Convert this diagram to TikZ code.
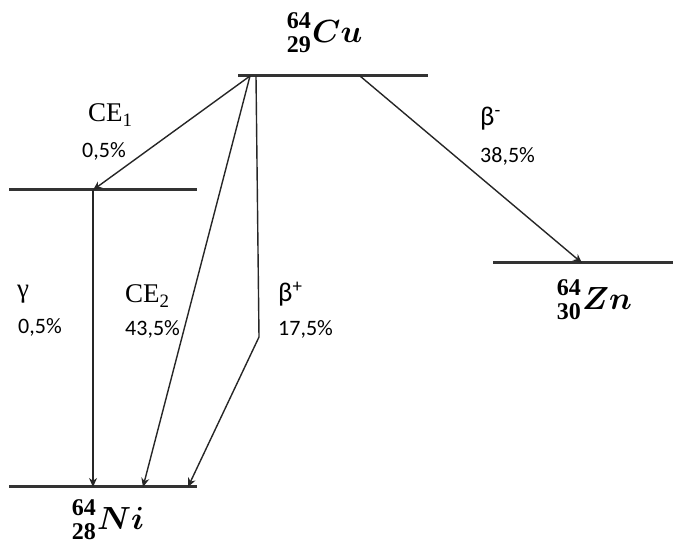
\RequirePackage{fix-cm}
\documentclass[tikz,border=0pt]{standalone}
\usepackage{amsmath,bm}
\usepackage{fontspec}
\setmainfont{Liberation Serif}
\newfontfamily\pctfont{Carlito}
\usetikzlibrary{arrows.meta,positioning}
\tikzset{
  level/.style={line width=3pt, draw=black!80},
  decay/.style={-{Stealth[length=9pt,width=8pt]}, line width=1.4pt, draw=black!85},
  nuc/.style={font=\fontsize{32}{34}\selectfont, anchor=base west, inner sep=0pt},
  znum/.style={font=\bfseries\fontsize{24}{26}\selectfont, anchor=base east, inner sep=0pt},
  mode/.style={font=\fontsize{27}{29}\selectfont, anchor=base west, inner sep=0pt},
  pct/.style={font=\pctfont\fontsize{22}{24}\selectfont, anchor=base west, inner sep=0pt},
}
\begin{document}
\begin{tikzpicture}[x=1pt, y=-1pt]
  \useasboundingbox (0,0) rectangle (673,545);
  % energy levels
  \coordinate (cuL) at (238,76);  \coordinate (cuR) at (428,76);
  \coordinate (exL) at (9,190);   \coordinate (exR) at (197,190);
  \coordinate (niL) at (9,487);   \coordinate (niR) at (197,487);
  \coordinate (znL) at (493,263); \coordinate (znR) at (673,263);
  \draw[level] (cuL) -- (cuR);
  \draw[level] (exL) -- (exR);
  \draw[level] (niL) -- (niR);
  \draw[level] (znL) -- (znR);
  % nuclides
  \node[nuc] (cu) at (312,43) {$\bm{Cu}$};
  \node[znum] (cuA) at ([xshift=-1pt,yshift=14pt]cu.base west) {64};
  \node[znum] (cuZ) at ([xshift=-1pt,yshift=-10pt]cu.base west) {29};
  \node[nuc] (zn) at (582,310) {$\bm{Zn}$};
  \node[znum] (znA) at ([xshift=-1pt,yshift=14pt]zn.base west) {64};
  \node[znum] (znZ) at ([xshift=-1pt,yshift=-10pt]zn.base west) {30};
  \node[nuc] (ni) at (97,530) {$\bm{Ni}$};
  \node[znum] (niA) at ([xshift=-1pt,yshift=14pt]ni.base west) {64};
  \node[znum] (niZ) at ([xshift=-1pt,yshift=-10pt]ni.base west) {28};
  % start and end points of the transitions
  \coordinate (cuS1) at (250,76);
  \coordinate (cuS2) at (256,76);
  \coordinate (cuS3) at (360,76);
  \coordinate (exE) at (93,190);
  \coordinate (niE1) at (93,487);
  \coordinate (niE2) at (143,487);
  \coordinate (niE3) at (188,487);
  \coordinate (znE) at (582,263);
  \coordinate (bend) at (259,337);
  % transitions
  \draw[decay] (cuS1) -- (exE);
  \draw[decay] (exE) -- (niE1);
  \draw[decay] (cuS1) -- (niE2);
  \draw[decay] (cuS2) -- (bend) -- (niE3);
  \draw[decay] (cuS3) -- (znE);
  % labels
  \node[mode] (ce1) at (88,122) {CE\textsubscript{1}};
  \node[pct] (ce1p) at (82,158) {0,5\%};
  \node[mode, font=\pctfont\fontsize{27}{29}\selectfont] (bm) at (480,126) {β\textsuperscript{-}};
  \node[pct] (bmp) at (480,163) {38,5\%};
  \node[mode] (ga) at (17,298) {γ};
  \node[pct] (gap) at (18,334) {0,5\%};
  \node[mode] (ce2) at (125,303) {CE\textsubscript{2}};
  \node[pct] (ce2p) at (125,336) {43,5\%};
  \node[mode, font=\pctfont\fontsize{27}{29}\selectfont] (bp) at (278,302) {β\textsuperscript{+}};
  \node[pct] (bpp) at (278,336) {17,5\%};
\end{tikzpicture}
\end{document}
